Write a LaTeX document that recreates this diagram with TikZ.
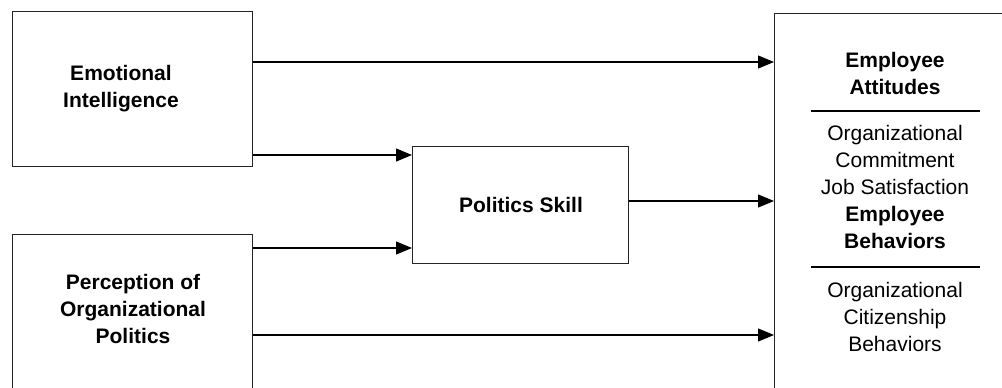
\documentclass[tikz,border=0pt]{standalone}
\usepackage{fontspec}
\setmainfont{Liberation Sans}
\usetikzlibrary{arrows.meta}
\begin{document}
\begin{tikzpicture}[x=1pt,y=-1pt,
  box/.style={draw=black!85, line width=1.2pt, rectangle, inner sep=0pt, anchor=north west},
  lbl/.style={font=\fontsize{21}{27}\selectfont, align=center, inner sep=0pt, anchor=north},
  lblb/.style={font=\bfseries\fontsize{21}{27}\selectfont, align=center, inner sep=0pt, anchor=north},
  arr/.style={-{Triangle[length=16pt,width=13pt]}, line width=1.2pt, draw=black},
  rule/.style={line width=1.2pt, draw=black}]
\useasboundingbox (0,0) rectangle (1002,388);
\clip (0,0) rectangle (1002,388);
% boxes
\node[box, minimum width=240pt, minimum height=155pt] (ei) at (12,11) {};
\node[box, minimum width=240pt, minimum height=220pt] (pop) at (12,234) {};
\node[box, minimum width=216pt, minimum height=117pt] (ps) at (412,146) {};
\node[box, minimum width=242pt, minimum height=420pt] (out) at (774,13) {};
% labels
\node[lblb] (eit) at (121,61.1) {\strut Emotional\\Intelligence};
\node[lblb] (popt) at (133,270.1) {\strut Perception of\\Organizational\\Politics};
\node[lblb] (pst) at (521,193.1) {\strut Politics Skill};
\node[lblb] (att) at (895,48.1) {\strut Employee\\Attitudes};
\node[lbl] (attl) at (895,121.1) {\strut Organizational\\Commitment\\Job Satisfaction\\\textbf{Employee}\\\textbf{Behaviors}};
\node[lbl] (behl) at (895,278.1) {\strut Organizational\\Citizenship\\Behaviors};
% separator rules
\coordinate (r1a) at (811,111);
\coordinate (r1b) at (980,111);
\coordinate (r2a) at (811,267);
\coordinate (r2b) at (980,267);
\draw[rule] (r1a) -- (r1b);
\draw[rule] (r2a) -- (r2b);
% connectors
\draw[arr] (ei.east |- 0,62) -- (out.west |- 0,62);
\draw[arr] (ei.east |- 0,155) -- (ps.west |- 0,155);
\draw[arr] (pop.east |- 0,248) -- (ps.west |- 0,248);
\draw[arr] (pop.east |- 0,335) -- (out.west |- 0,335);
\draw[arr] (ps.east |- 0,201) -- (out.west |- 0,201);
\end{tikzpicture}
\end{document}
